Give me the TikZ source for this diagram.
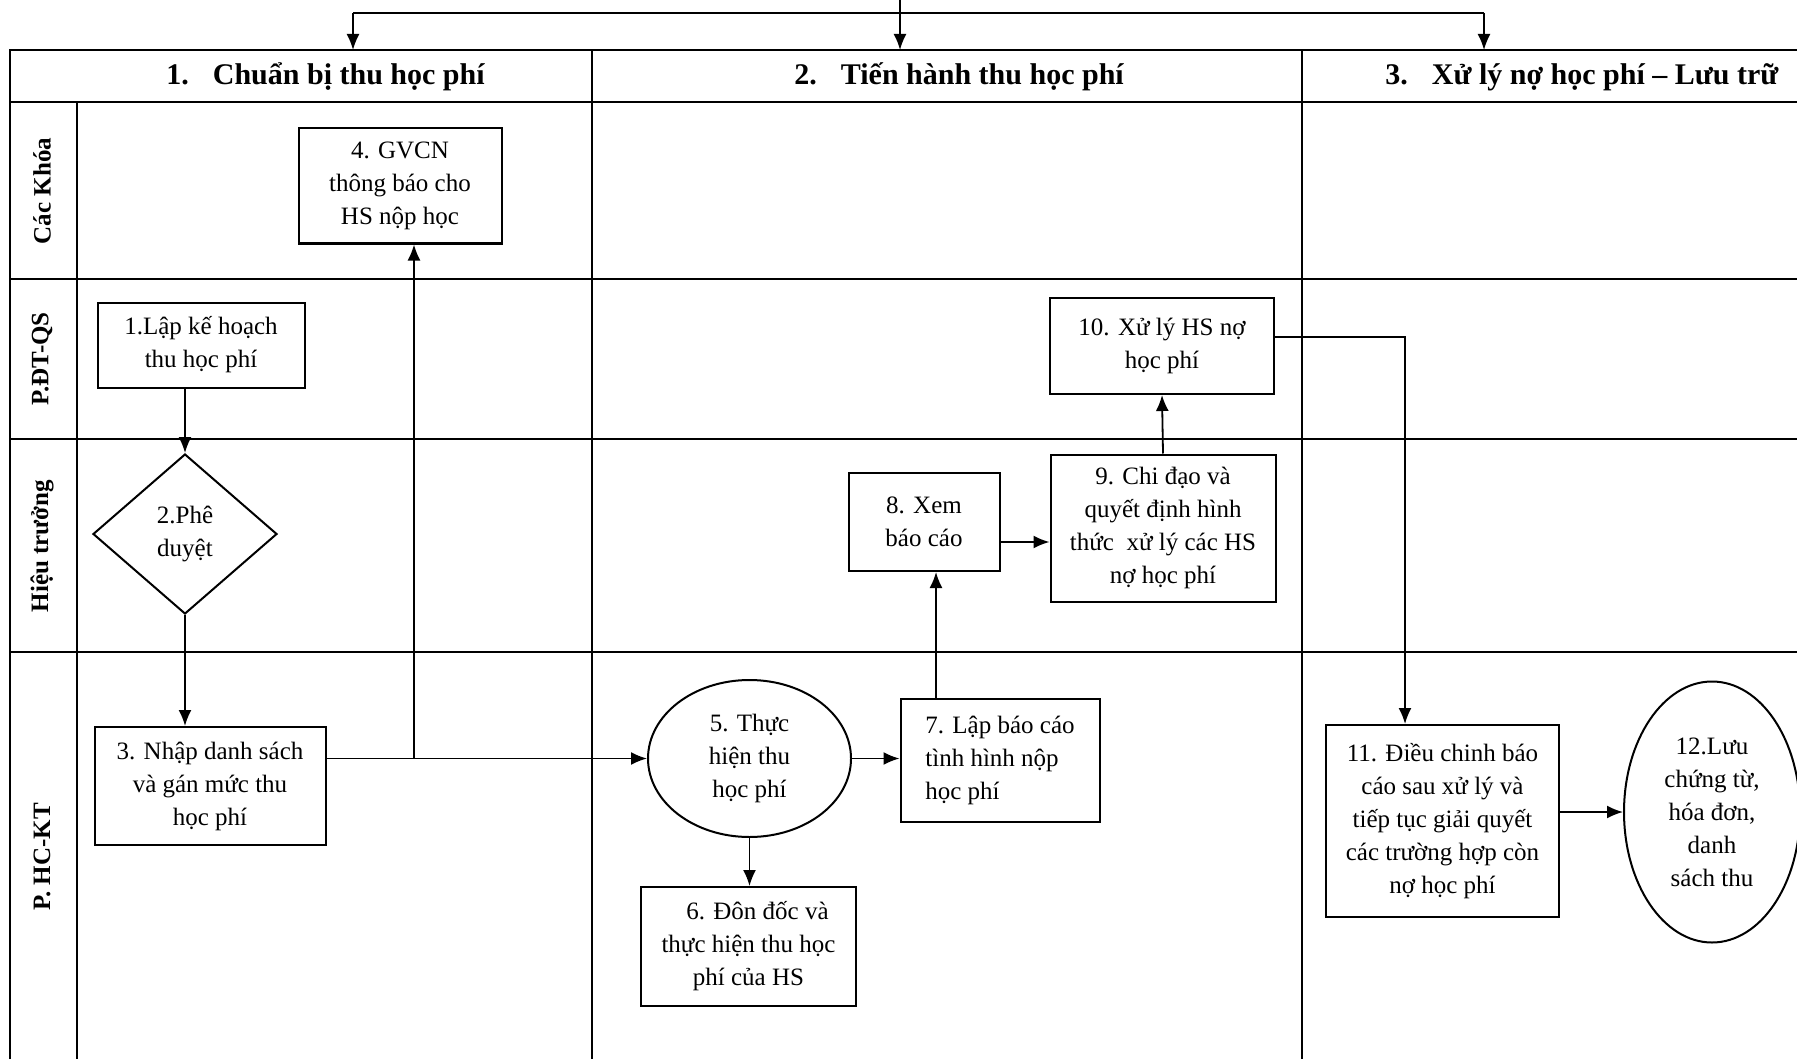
\documentclass[tikz,border=0pt]{standalone}
\usepackage{fontspec}
\setmainfont{Liberation Serif}
\usetikzlibrary{shapes.geometric,arrows.meta,calc}
\begin{document}
\begin{tikzpicture}[x=0.5pt,y=-0.5pt,
  every node/.style={font=\fontsize{12.5}{16.5}\selectfont, inner sep=0pt},
  box/.style={draw, line width=1pt, rectangle, align=center},
  oval/.style={draw, line width=1pt, ellipse, align=center},
  dia/.style={draw, line width=1pt, diamond, align=center},
  arr/.style={line width=0.9pt, -{Latex[length=8pt,width=6.5pt]}},
  conn/.style={line width=0.9pt},
  grid/.style={line width=1.1pt},
  head/.style={font=\fontsize{15}{18}\selectfont\bfseries, anchor=west},
  lane/.style={font=\fontsize{12.5}{14}\selectfont\bfseries, rotate=90}
]
\useasboundingbox (0,0) rectangle (1797,1059);
\fill[white] (0,0) rectangle (1797,1059);

% table grid
\draw[grid] (10,1059) -- (10,50) -- (1797,50);
\draw[grid] (10,102) -- (1797,102);
\draw[grid] (10,279) -- (1797,279);
\draw[grid] (10,439) -- (1797,439);
\draw[grid] (10,652) -- (1797,652);
\draw[grid] (77,102) -- (77,1059);
\draw[grid] (592,50) -- (592,1059);
\draw[grid] (1302,50) -- (1302,1059);

% headers
\node[head] (hd1) at (166,77) {1.\hspace{0.8em}Chuẩn bị thu học phí};
\node[head] (hd2) at (794,77) {2.\hspace{0.8em}Tiến hành thu học phí};
\node[head] (hd3) at (1385,77) {3.\hspace{0.8em}Xử lý nợ học phí – Lưu trữ};

% lane labels
\node[lane] (l1) at (42,191) {Các Khóa};
\node[lane] (l2) at (42,359) {P.ĐT-QS};
\node[lane] (l3) at (42,546) {Hiệu trưởng};
\node[lane] (l4) at (42,857) {P. HC-KT};

% nodes
\node[box, minimum width=101.5pt, minimum height=57.5pt] (b4) at (400,186) {4. GVCN\\thông báo cho\\HS nộp học};
\node[box, minimum width=103.5pt, minimum height=42.5pt] (b1) at (201,345) {1.Lập kế hoạch\\thu học phí};
\node[dia, minimum width=92pt, minimum height=80pt] (d2) at (185,534) {2.Phê\\duyệt};
\node[box, minimum width=115.5pt, minimum height=59pt] (b3) at (210,786) {3. Nhập danh sách\\và gán mức thu\\học phí};
\node[oval, minimum width=101.5pt, minimum height=78.5pt] (e5) at (749.5,758.5) {5. Thực\\hiện thu\\học phí};
\node[box, minimum width=107.5pt, minimum height=59.5pt] (b6) at (748.5,946.5) {\hspace*{9pt}6. Đôn đốc và\\thực hiện thu học\\phí của HS};
\node[draw, line width=1pt, rectangle, align=left, minimum width=99.5pt, minimum height=61.5pt] (b7) at (1000,760) {7. Lập báo cáo\\tình hình nộp\\học phí};
\node[box, minimum width=75.5pt, minimum height=49pt] (b8) at (924,522) {8. Xem\\báo cáo};
\node[box, minimum width=112.5pt, minimum height=73.5pt] (b9) at (1163,528) {9. Chi đạo và\\quyết định hình\\thức~ xử lý các HS\\nợ học phí};
\node[box, minimum width=112pt, minimum height=48pt] (b10) at (1162,346) {10. Xử lý HS nợ\\học phí};
\node[box, minimum width=116.5pt, minimum height=96pt] (b11) at (1442.5,821) {11. Điều chinh báo\\cáo sau xử lý và\\tiếp tục giải quyết\\các trường hợp còn\\nợ học phí};
\node[oval, minimum width=88pt, minimum height=130.5pt] (e12) at (1712,812) {12.Lưu\\chứng từ,\\hóa đơn,\\danh\\sách thu};

% top distribution
\coordinate (tin) at (900,0);
\coordinate (tl) at (353,13);
\coordinate (tr) at (1484,13);
\coordinate (h1) at (353,50);
\coordinate (h2) at (900,50);
\coordinate (h3) at (1484,50);
\draw[conn] (tl) -- (tr);
\draw[arr] (tl) -- (h1);
\draw[arr] (tr) -- (h3);
\draw[arr] (tin) -- (h2);

% connectors
\draw[arr] (d2.north |- b1.south) -- (d2.north);
\draw[arr] (d2.south) -- (d2.south |- b3.north);
\draw[arr] (b3.east |- e5.west) -- (e5.west);
\coordinate (j34) at (414,758.5);
\draw[arr] (j34) -- (j34 |- b4.south);
\draw[arr] (e5.east) -- (b7.west |- e5.east);
\draw[arr] (e5.south) -- (e5.south |- b6.north);
\coordinate (p78) at ([xshift=6pt]b8.south);
\draw[arr] (p78 |- b7.north) -- (p78);
\coordinate (p89) at ([yshift=-10pt]b8.east);
\draw[arr] (p89) -- (p89 -| b9.west);
\draw[arr] (b9.north) -- (b10.south);
\coordinate (p1011) at ([yshift=4.5pt]b10.east);
\coordinate (k1011) at (1405,337);
\draw[arr] (p1011) -- (k1011) -- (k1011 |- b11.north);
\draw[arr] (b11.east |- e12.west) -- (e12.west);
\end{tikzpicture}
\end{document}
